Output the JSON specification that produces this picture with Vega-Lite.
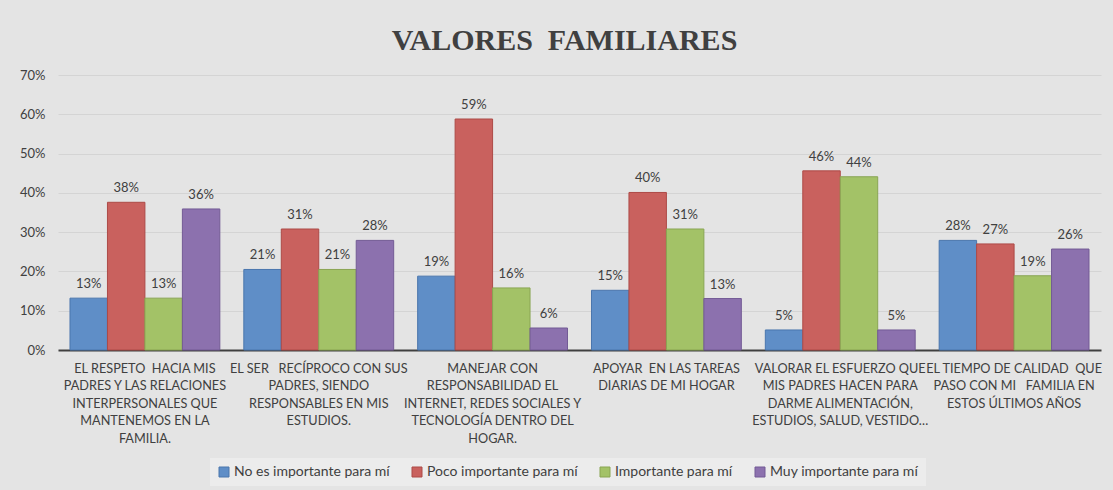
{
  "$schema": "https://vega.github.io/schema/vega-lite/v6.json",
  "autosize": {"type": "none"},
  "width": 1043,
  "height": 275,
  "padding": {"left": 58, "top": 75, "right": 12, "bottom": 140},
  "background": "#e4e4e4",
  "title": {
    "text": "VALORES\u00a0 FAMILIARES",
    "font": "Liberation Serif",
    "fontSize": 30,
    "fontWeight": "bold",
    "color": "#404040",
    "anchor": "middle",
    "dx": -15,
    "dy": 37,
    "baseline": "alphabetic",
    "offset": 26
  },
  "data": {
    "values": [
      {"valor": "EL RESPETO\u00a0 HACIA MIS\nPADRES Y LAS RELACIONES\nINTERPERSONALES QUE\nMANTENEMOS EN LA\nFAMILIA.", "grupo": "No es importante para mí", "pct": 0.132},
      {"valor": "EL RESPETO\u00a0 HACIA MIS\nPADRES Y LAS RELACIONES\nINTERPERSONALES QUE\nMANTENEMOS EN LA\nFAMILIA.", "grupo": "Poco importante para mí", "pct": 0.376},
      {"valor": "EL RESPETO\u00a0 HACIA MIS\nPADRES Y LAS RELACIONES\nINTERPERSONALES QUE\nMANTENEMOS EN LA\nFAMILIA.", "grupo": "Importante para mí", "pct": 0.132},
      {"valor": "EL RESPETO\u00a0 HACIA MIS\nPADRES Y LAS RELACIONES\nINTERPERSONALES QUE\nMANTENEMOS EN LA\nFAMILIA.", "grupo": "Muy importante para mí", "pct": 0.359},
      {"valor": "EL SER\u00a0\u00a0 RECÍPROCO CON SUS\nPADRES, SIENDO\nRESPONSABLES EN MIS\nESTUDIOS.", "grupo": "No es importante para mí", "pct": 0.205},
      {"valor": "EL SER\u00a0\u00a0 RECÍPROCO CON SUS\nPADRES, SIENDO\nRESPONSABLES EN MIS\nESTUDIOS.", "grupo": "Poco importante para mí", "pct": 0.308},
      {"valor": "EL SER\u00a0\u00a0 RECÍPROCO CON SUS\nPADRES, SIENDO\nRESPONSABLES EN MIS\nESTUDIOS.", "grupo": "Importante para mí", "pct": 0.205},
      {"valor": "EL SER\u00a0\u00a0 RECÍPROCO CON SUS\nPADRES, SIENDO\nRESPONSABLES EN MIS\nESTUDIOS.", "grupo": "Muy importante para mí", "pct": 0.279},
      {"valor": "MANEJAR CON\nRESPONSABILIDAD EL\nINTERNET, REDES SOCIALES Y\nTECNOLOGÍA DENTRO DEL\nHOGAR.", "grupo": "No es importante para mí", "pct": 0.188},
      {"valor": "MANEJAR CON\nRESPONSABILIDAD EL\nINTERNET, REDES SOCIALES Y\nTECNOLOGÍA DENTRO DEL\nHOGAR.", "grupo": "Poco importante para mí", "pct": 0.588},
      {"valor": "MANEJAR CON\nRESPONSABILIDAD EL\nINTERNET, REDES SOCIALES Y\nTECNOLOGÍA DENTRO DEL\nHOGAR.", "grupo": "Importante para mí", "pct": 0.158},
      {"valor": "MANEJAR CON\nRESPONSABILIDAD EL\nINTERNET, REDES SOCIALES Y\nTECNOLOGÍA DENTRO DEL\nHOGAR.", "grupo": "Muy importante para mí", "pct": 0.056},
      {"valor": "APOYAR\u00a0 EN LAS TAREAS\nDIARIAS DE MI HOGAR", "grupo": "No es importante para mí", "pct": 0.152},
      {"valor": "APOYAR\u00a0 EN LAS TAREAS\nDIARIAS DE MI HOGAR", "grupo": "Poco importante para mí", "pct": 0.401},
      {"valor": "APOYAR\u00a0 EN LAS TAREAS\nDIARIAS DE MI HOGAR", "grupo": "Importante para mí", "pct": 0.308},
      {"valor": "APOYAR\u00a0 EN LAS TAREAS\nDIARIAS DE MI HOGAR", "grupo": "Muy importante para mí", "pct": 0.131},
      {"valor": "VALORAR EL ESFUERZO QUE\nMIS PADRES HACEN PARA\nDARME ALIMENTACIÓN,\nESTUDIOS, SALUD, VESTIDO…", "grupo": "No es importante para mí", "pct": 0.051},
      {"valor": "VALORAR EL ESFUERZO QUE\nMIS PADRES HACEN PARA\nDARME ALIMENTACIÓN,\nESTUDIOS, SALUD, VESTIDO…", "grupo": "Poco importante para mí", "pct": 0.456},
      {"valor": "VALORAR EL ESFUERZO QUE\nMIS PADRES HACEN PARA\nDARME ALIMENTACIÓN,\nESTUDIOS, SALUD, VESTIDO…", "grupo": "Importante para mí", "pct": 0.441},
      {"valor": "VALORAR EL ESFUERZO QUE\nMIS PADRES HACEN PARA\nDARME ALIMENTACIÓN,\nESTUDIOS, SALUD, VESTIDO…", "grupo": "Muy importante para mí", "pct": 0.051},
      {"valor": "EL TIEMPO DE CALIDAD\u00a0 QUE\nPASO CON MI\u00a0\u00a0 FAMILIA EN\nESTOS ÚLTIMOS AÑOS", "grupo": "No es importante para mí", "pct": 0.279},
      {"valor": "EL TIEMPO DE CALIDAD\u00a0 QUE\nPASO CON MI\u00a0\u00a0 FAMILIA EN\nESTOS ÚLTIMOS AÑOS", "grupo": "Poco importante para mí", "pct": 0.27},
      {"valor": "EL TIEMPO DE CALIDAD\u00a0 QUE\nPASO CON MI\u00a0\u00a0 FAMILIA EN\nESTOS ÚLTIMOS AÑOS", "grupo": "Importante para mí", "pct": 0.189},
      {"valor": "EL TIEMPO DE CALIDAD\u00a0 QUE\nPASO CON MI\u00a0\u00a0 FAMILIA EN\nESTOS ÚLTIMOS AÑOS", "grupo": "Muy importante para mí", "pct": 0.257}
    ]
  },
  "encoding": {
    "x": {
      "field": "valor",
      "type": "nominal",
      "sort": null,
      "scale": {"paddingInner": 0.138, "paddingOuter": 0.069},
      "axis": {
        "title": null,
        "labelAngle": 0,
        "labelExpr": "split(datum.label, '\\n')",
        "labelFont": "Lato",
        "labelFontSize": 12.7,
        "labelColor": "#404040",
        "labelLineHeight": 17.5,
        "labelPadding": 12,
        "labelLimit": 400,
        "labelOverlap": false,
        "labelBaseline": "top",
        "ticks": false,
        "domainColor": "#404040",
        "domainWidth": 2
      }
    },
    "xOffset": {
      "field": "grupo",
      "type": "nominal",
      "sort": ["No es importante para mí", "Poco importante para mí", "Importante para mí", "Muy importante para mí"],
      "scale": {"paddingInner": 0, "paddingOuter": 0}
    },
    "y": {
      "field": "pct",
      "type": "quantitative",
      "scale": {"domain": [0, 0.7], "nice": false},
      "axis": {
        "title": null,
        "format": ".0%",
        "values": [0, 0.1, 0.2, 0.3, 0.4, 0.5, 0.6, 0.7],
        "labelFont": "Lato",
        "labelFontSize": 13,
        "labelColor": "#404040",
        "labelPadding": 13,
        "ticks": false,
        "domain": false,
        "gridColor": "#d4d4d4",
        "gridWidth": 1
      }
    }
  },
  "layer": [
    {
      "mark": {"type": "bar", "strokeWidth": 1},
      "encoding": {
        "color": {
          "field": "grupo",
          "type": "nominal",
          "sort": ["No es importante para mí", "Poco importante para mí", "Importante para mí", "Muy importante para mí"],
          "scale": {
            "domain": ["No es importante para mí", "Poco importante para mí", "Importante para mí", "Muy importante para mí"],
            "range": ["#5f8ec7", "#c9615e", "#a3c267", "#8c71ae"]
          },
          "legend": {
            "title": null,
            "orient": "none",
            "legendX": 152,
            "legendY": 383,
            "direction": "horizontal",
            "symbolType": "square",
            "symbolSize": 100,
            "symbolStrokeWidth": 1,
            "symbolStrokeColor": "#50647a",
            "labelFont": "Lato",
            "labelFontSize": 14,
            "labelColor": "#404040",
            "labelOffset": 3,
            "columnPadding": 20,
            "padding": 7,
            "fillColor": "#ececec",
            "labelLimit": 300
          }
        },
        "stroke": {
          "field": "grupo",
          "type": "nominal",
          "scale": {
            "domain": ["No es importante para mí", "Poco importante para mí", "Importante para mí", "Muy importante para mí"],
            "range": ["#4a76ad", "#ad4a47", "#89a553", "#735b95"]
          },
          "legend": null
        }
      }
    },
    {
      "mark": {"type": "text", "font": "Lato", "fontSize": 13, "color": "#404040", "baseline": "alphabetic", "dy": -10},
      "encoding": {
        "text": {"field": "pct", "type": "quantitative", "format": ".0%"}
      }
    }
  ],
  "config": {"view": {"stroke": null}}
}
